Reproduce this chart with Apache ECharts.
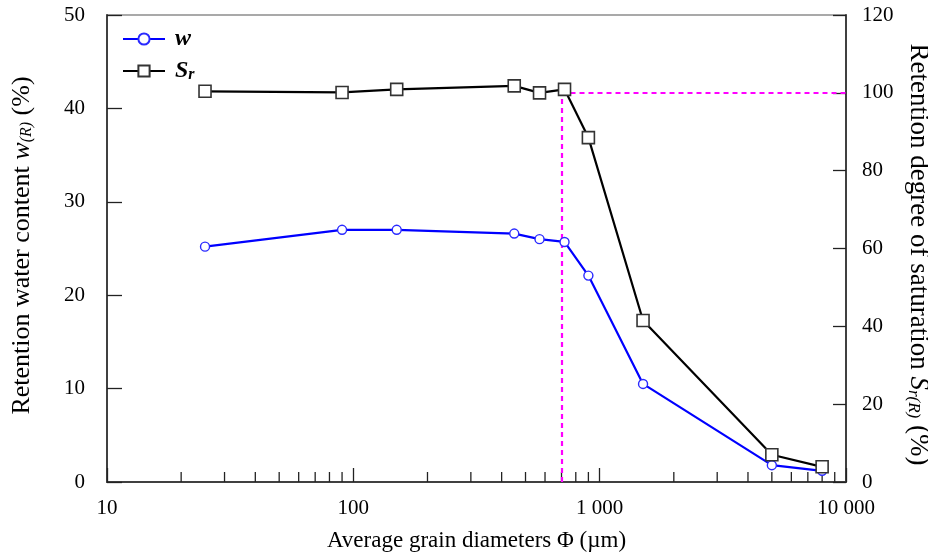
<!DOCTYPE html>
<html><head><meta charset="utf-8">
<script src="https://cdn.jsdelivr.net/npm/echarts@6/dist/echarts.min.js"></script>
<style>html,body{margin:0;padding:0;background:#fff}#c{width:928px;height:558px}</style>
</head><body><div id="c"></div>
<script>
const grainDiam = [25, 90, 150, 450, 570, 720, 900, 1500, 5000, 8000];
const waterContent = [25.2, 27.0, 27.0, 26.6, 26.0, 25.7, 22.1, 10.5, 1.8, 1.2];
const saturation = [100.4, 100.1, 100.9, 101.8, 100.0, 100.9, 88.5, 41.5, 7.0, 3.9];
const xTicks = [10, 100, 1000, 10000];
const xTickText = ['10', '100', '1 000', '10 000'];
const xMinorTicks = [20,30,40,50,60,70,80,90,200,300,400,500,600,700,800,900,2000,3000,4000,5000,6000,7000,8000,9000];
const refDiam = 700;
const refSat = 100;

const FONT = 'Liberation Serif';
const chart = echarts.init(document.getElementById('c'), null, {renderer: 'canvas'});
const axisCol = '#404040';

chart.setOption({
  backgroundColor: '#fff',
  animation: false,
  grid: {left: 107, right: 82, top: 15, bottom: 76, containLabel: false, outerBoundsMode: 'none',
         show: true, borderColor: '#555', borderWidth: 1.2, backgroundColor: 'transparent'},
  legend: {
    left: 117, top: 22, orient: 'vertical', itemWidth: 42, itemHeight: 14, itemGap: 8,
    textStyle: {fontFamily: FONT, fontSize: 24, fontStyle: 'italic', fontWeight: 'bold', color: '#000', lineHeight: 24,
      padding: [0, 0, 0, 5],
      rich: {i: {fontFamily: FONT, fontSize: 24, fontStyle: 'italic', fontWeight: 'bold', lineHeight: 24},
             sub: {fontFamily: FONT, fontSize: 16, fontStyle: 'italic', fontWeight: 'bold', lineHeight: 16, padding: [8, 0, 0, 0]}}},
    formatter: function (n) { return n === 'w' ? '{i|w}' : '{i|S}{sub|r}'; },
    data: ['w', 'Sr']
  },
  xAxis: {
    type: 'log', logBase: 10, min: 10, max: 10000,
    name: 'Average grain diameters Φ (µm)', nameLocation: 'middle', nameGap: 47,
    nameTextStyle: {fontFamily: FONT, fontSize: 23, color: '#000'},
    axisLine: {lineStyle: {color: axisCol, width: 2}},
    axisTick: {inside: true, length: 14, lineStyle: {color: '#222', width: 1.3}},
    axisLabel: {fontFamily: FONT, fontSize: 21, color: '#000', margin: 16,
      formatter: function (v) { const i = xTicks.indexOf(Math.round(v)); return i >= 0 ? xTickText[i] : ''; }},
    splitLine: {show: false}, minorTick: {show: false}
  },
  yAxis: [{
    type: 'value', min: 0, max: 50, interval: 10, position: 'left',
    name: 'Retention water content {i|w}{sub|(R)} (%)', nameLocation: 'middle', nameGap: 72,
    nameTextStyle: {fontFamily: FONT, fontSize: 26, color: '#000', padding: [0, 0, 0, 6],
      rich: {i: {fontFamily: FONT, fontSize: 26, fontStyle: 'italic'},
             sub: {fontFamily: FONT, fontSize: 16, fontStyle: 'italic', padding: [9, 0, 0, 0]}}},
    axisLine: {show: true, lineStyle: {color: axisCol, width: 2}},
    axisTick: {show: true, inside: true, length: 15, lineStyle: {color: '#222', width: 1.3}},
    axisLabel: {fontFamily: FONT, fontSize: 21, color: '#000', margin: 22},
    splitLine: {show: false}
  }, {
    type: 'value', min: 0, max: 120, interval: 20, position: 'right',
    name: 'Retention degree of saturation {i|S}{sub|r(R)} (%)', nameLocation: 'middle', nameGap: 53, nameRotate: -90,
    nameTextStyle: {fontFamily: FONT, fontSize: 27, color: '#000', padding: [0, 0, 0, 12],
      rich: {i: {fontFamily: FONT, fontSize: 27, fontStyle: 'italic'},
             sub: {fontFamily: FONT, fontSize: 17, fontStyle: 'italic', padding: [9, 0, 0, 0]}}},
    axisLine: {show: true, lineStyle: {color: axisCol, width: 2}},
    axisTick: {show: true, inside: true, length: 13, lineStyle: {color: '#222', width: 1.3}},
    axisLabel: {fontFamily: FONT, fontSize: 21, color: '#000', margin: 16},
    splitLine: {show: false}
  }],
  series: [{
    type: 'custom', silent: true, xAxisIndex: 0, yAxisIndex: 0, z: 1,
    data: xMinorTicks.map(v => [v, 0]),
    renderItem: function (params, api) {
      const p = api.coord([api.value(0), 0]);
      return {type: 'line', shape: {x1: p[0], y1: p[1], x2: p[0], y2: p[1] - 10},
              style: {stroke: '#222', lineWidth: 1.3}};
    }
  }, {
    name: 'w', type: 'line', yAxisIndex: 0, z: 4,
    data: grainDiam.map((x, i) => [x, waterContent[i]]),
    symbol: 'circle', symbolSize: 9, showAllSymbol: true,
    lineStyle: {color: '#0000ff', width: 2.2},
    itemStyle: {color: '#fff', borderColor: '#2a2aff', borderWidth: 1.4}
  }, {
    name: 'Sr', type: 'line', yAxisIndex: 1, z: 5,
    data: grainDiam.map((x, i) => [x, saturation[i]]),
    symbol: 'rect', symbolSize: 12, showAllSymbol: true,
    lineStyle: {color: '#000', width: 2.2},
    itemStyle: {color: '#fff', borderColor: '#333', borderWidth: 1.6},
    markLine: {
      silent: true, symbol: 'none', z: 2, label: {show: false},
      lineStyle: {color: '#ff00ff', type: [5, 4], width: 2.2},
      data: [
        [{coord: [refDiam, 0]}, {coord: [refDiam, refSat]}],
        [{coord: [refDiam, refSat]}, {coord: [10000, refSat]}]
      ]
    }
  }]
});
</script></body></html>
